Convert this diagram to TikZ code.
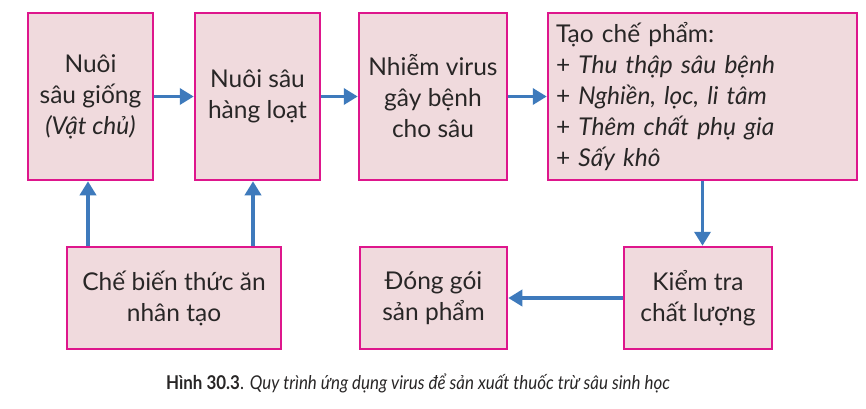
\documentclass[tikz,border=0pt]{standalone}
\usepackage{fontspec}
\setmainfont{Lato}
\usetikzlibrary{arrows.meta}
\definecolor{boxfill}{RGB}{240,218,221}
\definecolor{boxline}{RGB}{222,22,140}
\definecolor{arrowblue}{RGB}{62,122,188}
\definecolor{textcol}{RGB}{40,38,38}
\tikzset{
  stepbox/.style={draw=boxline, line width=2.5pt, fill=boxfill, rectangle, align=center, inner sep=0pt,
    font=\fontsize{24.5}{31}\selectfont, text=textcol},
  arr/.style={draw=arrowblue, line width=3.8pt, -{Triangle[length=14pt,width=16pt]}}
}
\begin{document}
\begin{tikzpicture}[x=1pt,y=-1pt]
\useasboundingbox (0,0) rectangle (866,408);
\fill[white] (0,0) rectangle (866,408);
\node[stepbox, minimum width=125pt, minimum height=167pt] (b1) at (90.5,96.5) {Nuôi\\sâu giống\\\textit{(Vật chủ)}};
\node[stepbox, minimum width=125pt, minimum height=167pt] (b2) at (257.5,96.5) {Nuôi sâu\\hàng loạt};
\node[stepbox, minimum width=148pt, minimum height=167pt] (b3) at (433,96.5) {Nhiễm virus\\gây bệnh\\cho sâu};
\node[stepbox, minimum width=309pt, minimum height=167pt, text width=293pt, align=left, inner xsep=8pt] (b4) at (702.5,96.5) {Tạo chế phẩm:\\+ \textit{Thu thập sâu bệnh}\\+ \textit{Nghiền, lọc, li tâm}\\+ \textit{Thêm chất phụ gia}\\+ \textit{Sấy khô}};
\node[stepbox, minimum width=214pt, minimum height=102pt] (cb) at (174,298) {Chế biến thức ăn\\nhân tạo};
\node[stepbox, minimum width=147pt, minimum height=102pt] (dg) at (433.5,298) {Đóng gói\\sản phẩm};
\node[stepbox, minimum width=148pt, minimum height=102pt] (kt) at (698,298) {Kiểm tra\\chất lượng};
\draw[arr] (b1) -- (b2);
\draw[arr] (b2) -- (b3);
\draw[arr] (b3) -- (b4);
\draw[arr] ([xshift=-2.5pt]cb.north -| b1.south) -- ([xshift=-2.5pt]b1.south);
\draw[arr] ([xshift=-4.5pt]cb.north -| b2.south) -- ([xshift=-4.5pt]b2.south);
\draw[arr] (b4.south) -- (b4.south |- kt.north);
\draw[arr] (kt) -- (dg);
\node[font=\fontsize{19}{21}\selectfont, text=textcol] (cap) at (418,383) {\scalebox{0.89}[1]{\textbf{Hình 30.3}. \textit{Quy trình ứng dụng virus để sản xuất thuốc trừ sâu sinh học}}};
\end{tikzpicture}
\end{document}
